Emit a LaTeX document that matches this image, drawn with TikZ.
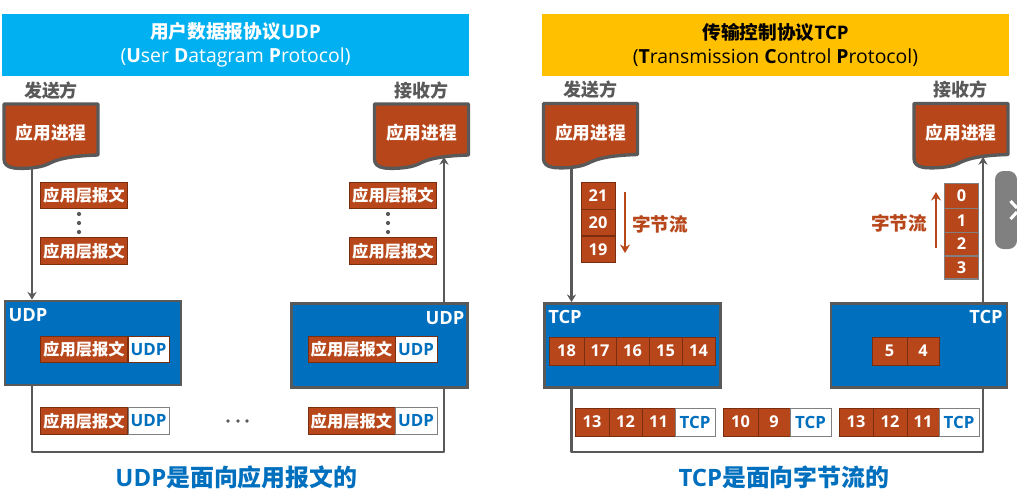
\documentclass[tikz,border=0pt]{standalone}
\usepackage{xcolor}
\usepackage{fontspec}
\usetikzlibrary{arrows.meta}
\setmainfont{Open Sans}
\newfontfamily\zhfont{Noto Sans CJK SC}
\newcommand{\zh}[1]{{\zhfont #1}}
\newcommand{\subline}{\fontsize{13.8}{19}\selectfont}
\definecolor{netblue}{HTML}{006FBE}
\definecolor{netsky}{HTML}{00B0F0}
\definecolor{netgold}{HTML}{FFC000}
\definecolor{netrust}{HTML}{B7471A}
\definecolor{netdark}{HTML}{7A2E10}
\definecolor{netgray}{HTML}{595959}
\definecolor{tabgray}{HTML}{808080}
\newcommand{\appdoc}[3]{%
  \begin{scope}[shift={(#1,#2)}]
    \draw[docline] (0,0) -- (94,0) -- (94,51) .. controls (62,52) and (52,56) .. (44,60)
      .. controls (36,64) and (20,65) .. (10,64) .. controls (3,63) and (0,60) .. (0,55) -- cycle;
  \end{scope}
  \node[docnode] (#3) at ({#1+47},{#2+29}) {\zh{应用进程}};}
\begin{document}
\begin{tikzpicture}[
    x=0.025cm, y=-0.025cm,
    banner/.style={rectangle, fill=#1, minimum width=11.68cm, minimum height=1.55cm, align=center, font=\fontsize{13.3}{17}\selectfont},
    role/.style={font=\fontsize{12.8}{14}\selectfont\bfseries, color=netgray},
    docline/.style={draw=netgray, line width=2.4pt, fill=netrust, line join=round},
    docnode/.style={rectangle, minimum width=2.35cm, minimum height=1.45cm, inner sep=0pt, text=white, font=\fontsize{12.6}{14}\selectfont\bfseries},
    msg/.style={rectangle, draw=netdark, line width=0.5pt, fill=netrust, minimum width=2.18cm, minimum height=0.66cm, inner sep=0pt, text=white, font=\fontsize{11.6}{13}\selectfont\bfseries},
    hdr/.style={rectangle, draw=#1, line width=0.5pt, fill=white, minimum height=0.66cm, inner sep=0pt, text=netblue, font=\fontsize{12}{13}\selectfont\bfseries},
    cell/.style={rectangle, draw=netdark, line width=0.5pt, fill=netrust, minimum width=#1, minimum height=0.7cm, inner sep=0pt, text=white, font=\fontsize{11.6}{13}\selectfont\bfseries},
    stackcell/.style={cell=0.85cm, minimum height=#1},
    layer/.style={rectangle, draw=netgray, line width=1.9pt, fill=netblue, minimum width=4.4cm, minimum height=2.1cm},
    layername/.style={text=white, font=\fontsize{13}{15}\selectfont\bfseries},
    wire/.style={draw=netgray, line width=1.9pt, line join=round},
    flow/.style={wire, -{Stealth[length=5.5pt,width=6.5pt]}},
    bytes/.style={draw=netrust, line width=2pt, -{Stealth[length=6pt,width=7pt]}},
    bytelabel/.style={text=netrust, font=\fontsize{13.2}{15}\selectfont\bfseries},
    vdots/.style={circle, fill=netgray, minimum size=3pt, inner sep=0pt},
    summary/.style={text=netblue, font=\fontsize{17}{19}\selectfont\bfseries}
]
\useasboundingbox (0,0) rectangle (1017,494);

% UDP side
\node[banner=netsky, text=white] (udptitle) at (235.5,45) {\bfseries\zh{用户数据报协议}UDP\\ \subline (\textbf{U}ser \textbf{D}atagram \textbf{P}rotocol)};
\node[role] (udpsender) at (51,91) {\zh{发送方}};
\node[role] (udpreceiver) at (421,91) {\zh{接收方}};
\appdoc{4}{104}{udpsdoc}
\appdoc{374.5}{104}{udprdoc}

\coordinate (udptap) at (32,0);
\coordinate (udpin)  at (444,157);
\coordinate (udpbus) at (0,452);

\node[msg] (smsga) at (84,195.5) {\zh{应用层报文}};
\node[vdots] (sdota) at (79,214) {};
\node[vdots] (sdotb) at (79,223) {};
\node[vdots] (sdotc) at (79,232) {};
\node[msg] (smsgb) at (84,251) {\zh{应用层报文}};
\node[msg] (rmsga) at (393,195.5) {\zh{应用层报文}};
\node[vdots] (rdota) at (388,214) {};
\node[vdots] (rdotb) at (388,223) {};
\node[vdots] (rdotc) at (388,232) {};
\node[msg] (rmsgb) at (393,251) {\zh{应用层报文}};

\node[layer] (udpsbox) at (93,343) {};
\node[layer] (udprbox) at (379.5,345.5) {};
\node[layername] (udpsname) at (28,315) {UDP};
\node[layername] (udprname) at (445,318) {UDP};

\node[msg] (smsgc) at (84,349.5) {\zh{应用层报文}};
\node[hdr=netdark, minimum width=1.02cm] (shdrc) at (148.5,349.5) {UDP};
\node[msg] (rmsgc) at (351.5,349.5) {\zh{应用层报文}};
\node[hdr=netdark, minimum width=1.05cm] (rhdrc) at (416,349.5) {UDP};

\node[msg] (lmsgd) at (84,421) {\zh{应用层报文}};
\node[hdr=gray, minimum width=1.02cm] (lhdrd) at (148.5,421) {UDP};
\node[msg] (rmsgd) at (351.5,421) {\zh{应用层报文}};
\node[hdr=gray, minimum width=1.05cm] (rhdrd) at (416,421) {UDP};
\node[vdots, minimum size=2.6pt] (mdota) at (228,421) {};
\node[vdots, minimum size=2.6pt] (mdotb) at (238,421) {};
\node[vdots, minimum size=2.6pt] (mdotc) at (247,421) {};

\draw[flow] (udpsdoc.south -| udptap) ++(0,7) -- (udpsbox.north -| udptap);
\draw[wire] (udpsbox.south -| udptap) -- (udptap |- udpbus) -- (udpin |- udpbus) -- (udprbox.south -| udpin);
\draw[flow] (udprbox.north -| udpin) -- (udpin);

\node[summary] (udpnote) at (236.5,477) {UDP\zh{是面向应用报文的}};

% TCP side
\node[banner=netgold, text=black] (tcptitle) at (775.5,45) {\bfseries\zh{传输控制协议}TCP\\ \subline (\textbf{T}ransmission \textbf{C}ontrol \textbf{P}rotocol)};
\node[role] (tcpsender) at (590,90) {\zh{发送方}};
\node[role] (tcpreceiver) at (960,90) {\zh{接收方}};
\appdoc{543.5}{103.5}{tcpsdoc}
\appdoc{914}{103.5}{tcprdoc}

\coordinate (tcptap) at (571.5,0);
\coordinate (tcpin)  at (983,157);
\coordinate (tcpbus) at (0,452);

\node[stackcell=0.66cm] (sb21) at (598,196) {21};
\node[stackcell=0.66cm] (sb20) at (598,222.5) {20};
\node[stackcell=0.66cm] (sb19) at (598,249.5) {19};
\coordinate (sflowa) at (625,192);
\coordinate (sflowb) at (625,253);
\draw[bytes] (sflowa) -- (sflowb);
\node[bytelabel] (sbytes) at (660,224) {\zh{字节流}};

\node[stackcell=0.61cm, draw=gray, line width=0.9pt] (rb0) at (961.5,196) {0};
\node[stackcell=0.61cm, draw=gray, line width=0.9pt] (rb1) at (961.5,220.5) {1};
\node[stackcell=0.58cm, draw=gray, line width=0.9pt] (rb2) at (961.5,244) {2};
\node[stackcell=0.58cm, draw=gray, line width=0.9pt] (rb3) at (961.5,267.5) {3};
\coordinate (rflowa) at (936,248);
\coordinate (rflowb) at (936,192);
\draw[bytes] (rflowa) -- (rflowb);
\node[bytelabel] (rbytes) at (899,223) {\zh{字节流}};

\node[layer] (tcpsbox) at (632.5,345.5) {};
\node[layer] (tcprbox) at (919,345.5) {};
\node[layername] (tcpsname) at (565,317) {TCP};
\node[layername] (tcprname) at (986,317) {TCP};

\node[cell=0.88cm] (c18) at (566.5,351) {18};
\node[cell=0.8cm]  (c17) at (600,351) {17};
\node[cell=0.82cm] (c16) at (632.5,351) {16};
\node[cell=0.82cm] (c15) at (665.5,351) {15};
\node[cell=0.82cm] (c14) at (698.5,351) {14};
\node[cell=0.88cm] (c5)  at (889.5,351) {5};
\node[cell=0.8cm]  (c4)  at (923,351) {4};

\node[cell=0.85cm] (pa13) at (592,422) {13};
\node[cell=0.82cm] (pa12) at (625.5,422) {12};
\node[cell=0.82cm] (pa11) at (658.5,422) {11};
\node[hdr=gray, minimum width=1cm, minimum height=0.7cm] (pah) at (695,422) {TCP};
\node[cell=0.88cm] (pb10) at (740.5,422) {10};
\node[cell=0.8cm]  (pb9)  at (774,422) {9};
\node[hdr=gray, minimum width=1.02cm, minimum height=0.7cm] (pbh) at (810.5,422) {TCP};
\node[cell=0.85cm] (pc13) at (856,422) {13};
\node[cell=0.85cm] (pc12) at (890,422) {12};
\node[cell=0.8cm]  (pc11) at (923,422) {11};
\node[hdr=gray, minimum width=1cm, minimum height=0.7cm] (pch) at (959,422) {TCP};

\draw[flow] (tcpsdoc.south -| tcptap) ++(0,7) -- (tcpsbox.north -| tcptap);
\draw[wire] (tcpsbox.south -| tcptap) -- (tcptap |- tcpbus) -- (tcpin |- tcpbus) -- (tcprbox.south -| tcpin);
\draw[flow] (tcprbox.north -| tcpin) -- (tcpin);

\node[summary] (tcpnote) at (784,477) {TCP\zh{是面向字节流的}};

% tab at the window edge
\fill[tabgray, rounded corners=6] (1017,171) -- (995,171) -- (995,249) -- (1017,249) -- cycle;
\draw[white, line width=2.2pt] (1010.5,201) -- (1017,208);
\draw[white, line width=2.2pt] (1010.5,219) -- (1017,212);
\end{tikzpicture}
\end{document}
